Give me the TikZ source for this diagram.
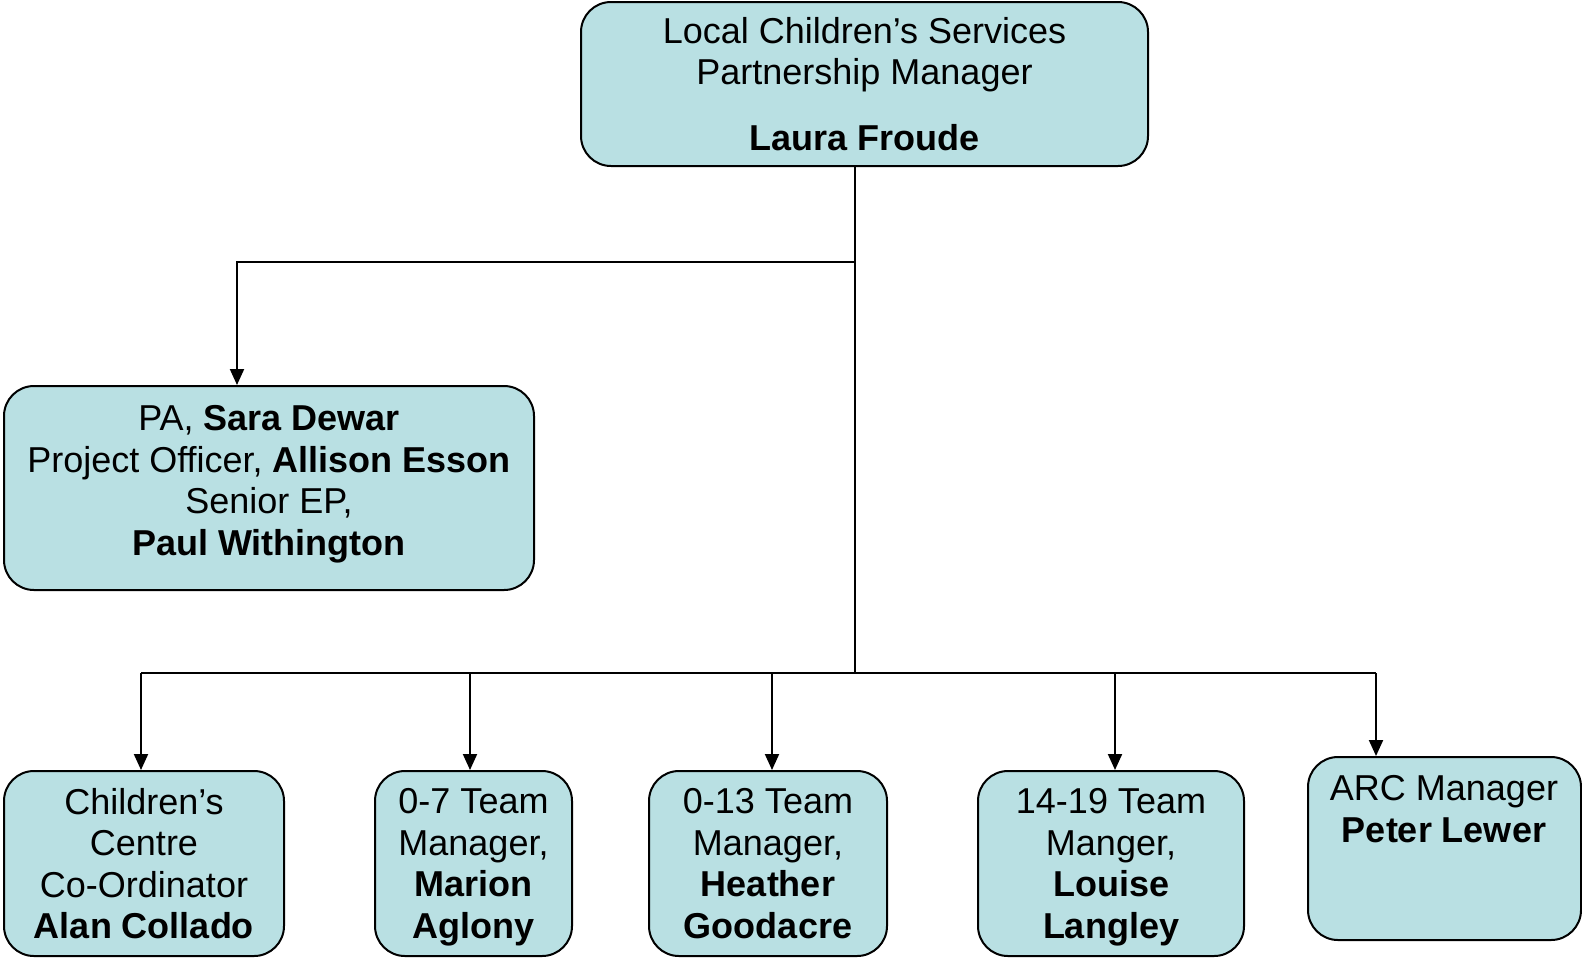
\documentclass[tikz,border=0pt]{standalone}
\usepackage{fontspec}
\setmainfont{Liberation Sans}
\usetikzlibrary{arrows.meta}
\definecolor{boxfill}{RGB}{185,224,227}
\begin{document}
\begin{tikzpicture}[x=0.5pt,y=-0.5pt,
  box/.style={draw=black, line width=1pt, fill=boxfill, rounded corners=15pt, inner sep=0pt},
  txt/.style={align=center, inner sep=0pt, font=\fontsize{18pt}{20.75pt}\selectfont},
  low/.style={box, txt, minimum height=92.5pt, text depth=0pt},
  conn/.style={line width=1pt},
  arr/.style={conn, -{Triangle[width=7pt,length=8pt]}}]
\useasboundingbox (0,0) rectangle (1582,959);

% boxes
\node[box, minimum width=283.5pt, minimum height=82pt] (top) at (864.5,84) {};
\node[txt] (topt) at (864.5,84) {Local Children’s Services\\Partnership Manager\\[12pt]\textbf{Laura Froude}};

\node[box, minimum width=265pt, minimum height=102pt] (pa) at (269,488) {};
\node[txt] (pat) at (269,484) {PA, \textbf{Sara Dewar}\\Project Officer, \textbf{Allison Esson}\\Senior EP,\\\textbf{Paul Withington}};

\node[low, minimum width=140pt] (b1) at (144,863.5) {Children’s\\Centre\\Co-Ordinator\\\textbf{Alan Collado}};
\node[low, minimum width=98.5pt] (b2) at (473.5,863.5) {0-7 Team\\Manager,\\\textbf{Marion}\\\textbf{Aglony}};
\node[low, minimum width=119pt] (b3) at (768,863.5) {0-13 Team\\Manager,\\\textbf{Heather}\\\textbf{Goodacre}};
\node[low, minimum width=133pt] (b4) at (1111,863.5) {14-19 Team\\Manger,\\\textbf{Louise}\\\textbf{Langley}};
\node[box, minimum width=136.5pt, minimum height=91.5pt] (b5) at (1444.5,848.5) {};
\node[txt] (b5t) at (1444,809) {ARC Manager\\\textbf{Peter Lewer}};

% junctions
\coordinate (j1) at (855,262);
\coordinate (j2) at (855,673);
\coordinate (xpa) at (237,0);
\coordinate (x1) at (141,0);
\coordinate (x2) at (470,0);
\coordinate (x3) at (772,0);
\coordinate (x4) at (1115,0);
\coordinate (x5) at (1376,0);

% connectors
\draw[conn] (top.south -| j1) -- (j2);
\draw[arr] (j1) -| (pa.north -| xpa);
\draw[conn] (j2 -| x1) -- (j2 -| x5);
\draw[arr] (j2 -| x1) -- (b1.north -| x1);
\draw[arr] (j2 -| x2) -- (b2.north -| x2);
\draw[arr] (j2 -| x3) -- (b3.north -| x3);
\draw[arr] (j2 -| x4) -- (b4.north -| x4);
\draw[arr] (j2 -| x5) -- (b5.north -| x5);
\end{tikzpicture}
\end{document}
